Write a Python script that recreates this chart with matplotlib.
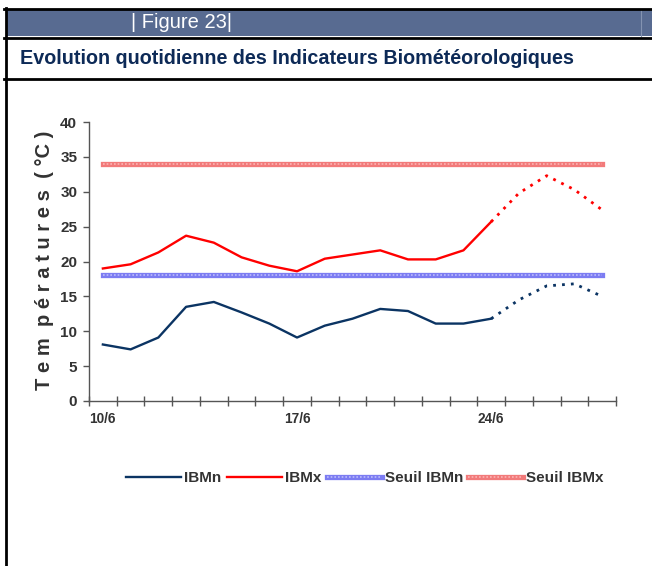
import numpy as np
import matplotlib
matplotlib.use("Agg")
import matplotlib.pyplot as plt
from matplotlib.lines import Line2D
from matplotlib.patches import Rectangle
from matplotlib.legend_handler import HandlerTuple

# Data (daily values, 10/6 -> 28/6)
days = ["10/6", "11/6", "12/6", "13/6", "14/6", "15/6", "16/6", "17/6", "18/6", "19/6",
        "20/6", "21/6", "22/6", "23/6", "24/6", "25/6", "26/6", "27/6", "28/6"]
ibmn = [8.1, 7.4, 9.1, 13.5, 14.2, 12.7, 11.1, 9.1, 10.8, 11.8,
        13.2, 12.9, 11.1, 11.1, 11.8, 14.5, 16.5, 16.8, 15.0]
ibmx = [19.0, 19.6, 21.3, 23.7, 22.7, 20.6, 19.4, 18.6, 20.4, 21.0,
        21.6, 20.3, 20.3, 21.6, 25.7, 29.8, 32.3, 30.3, 27.4]
seuil_ibmn = 18
seuil_ibmx = 34
last_obs = 14          # forecast (dotted) after 24/6
label_days = ["10/6", "17/6", "24/6"]

FONT = ["Liberation Sans", "DejaVu Sans"]
TXT = "#333333"
NAVY = "#0b3463"
RED = "#ff0000"

fig = plt.figure(figsize=(6.52, 5.66), dpi=100)
W, H = 652, 566


def fx(px):
    return px / W


def fy(py):
    return 1 - py / H


# page frame: header band, title row, borders
fig.add_artist(Rectangle((fx(6), fy(36)), 1, fy(10) - fy(36), transform=fig.transFigure,
                         facecolor="#586b91", edgecolor="none"))
fig.add_artist(Line2D([fx(641), fx(641)], [fy(36), fy(10)], transform=fig.transFigure,
                      color="#8493b1", lw=0.8))
for py in (8.5, 37.5, 78.5):
    fig.add_artist(Line2D([fx(4), 1], [fy(py), fy(py)], transform=fig.transFigure,
                          color="black", lw=2))
fig.add_artist(Line2D([fx(5.5), fx(5.5)], [fy(8), 0], transform=fig.transFigure,
                      color="black", lw=2))
fig.text(fx(131), fy(23), "| Figure 23|", color="white", fontsize=14.5,
         family=FONT, va="center", ha="left")
fig.text(fx(20), fy(58), "Evolution quotidienne des Indicateurs Biométéorologiques",
         color="#0d2a57", fontsize=14.2, fontweight="bold", family=FONT,
         va="center", ha="left")

ax = fig.add_axes([fx(89), fy(401), fx(616) - fx(89), fy(122) - fy(401)])
x = np.arange(len(days))

# thresholds: thick patterned bands
sn = np.full(len(days), seuil_ibmn)
sm = np.full(len(days), seuil_ibmx)
ax.plot(x, sm, color="#f27a7a", lw=3.8, solid_capstyle="projecting", zorder=2)
ax.plot(x, sm, color="#fbb4b4", lw=1.2, ls=(0, (1, 1.2)), zorder=2)
ax.plot(x, sn, color="#7c7cf2", lw=3.8, solid_capstyle="projecting", zorder=2)
ax.plot(x, sn, color="#bcbcfb", lw=1.2, ls=(0, (1, 1.2)), zorder=2)

# observed (solid) then forecast (dotted)
ax.plot(x[:last_obs + 1], ibmn[:last_obs + 1], color=NAVY, lw=1.7, zorder=3)
ax.plot(x[last_obs:], ibmn[last_obs:], color=NAVY, lw=2, ls=(0, (1, 2.2)), zorder=3)
ax.plot(x[:last_obs + 1], ibmx[:last_obs + 1], color=RED, lw=1.7, zorder=3)
ax.plot(x[last_obs:], ibmx[last_obs:], color=RED, lw=2, ls=(0, (1, 2.2)), zorder=3)

ax.set_xlim(-0.5, len(days) - 0.5)
ax.set_ylim(0, 40)
ax.set_yticks(range(0, 41, 5))
ax.set_yticklabels([str(v) for v in range(0, 41, 5)], family=FONT,
                   fontweight="bold", fontsize=11, color=TXT)
ax.tick_params(axis="y", direction="out", length=4.5, width=1, color="#555555", pad=4)

ax.set_xticks(np.arange(len(days) + 1) - 0.5)
ax.set_xticklabels([])
ax.tick_params(axis="x", which="major", direction="inout", length=6.5, width=1,
               color="#555555")
ax.set_xticks([days.index(d) for d in label_days], minor=True)
ax.set_xticklabels(label_days, minor=True, family=FONT, fontweight="bold",
                   fontsize=9.8, color=TXT)
ax.tick_params(axis="x", which="minor", length=0, pad=8)

for s in ("top", "right"):
    ax.spines[s].set_visible(False)
for s in ("left", "bottom"):
    ax.spines[s].set_color("#555555")
    ax.spines[s].set_linewidth(1)

fig.text(fx(45), fy(260), "T e m  p é r a t u r e s  ( °C )", rotation=90,
         family=FONT, fontweight="bold", fontsize=14.5, color=TXT,
         va="center", ha="center")

# legend
h_n = Line2D([], [], color=NAVY, lw=1.7)
h_x = Line2D([], [], color=RED, lw=1.7)
h_sn = (Line2D([], [], color="#7c7cf2", lw=3.8),
        Line2D([], [], color="#bcbcfb", lw=1.2, ls=(0, (1, 1.2))))
h_sx = (Line2D([], [], color="#f27a7a", lw=3.8),
        Line2D([], [], color="#fbb4b4", lw=1.2, ls=(0, (1, 1.2))))
leg = fig.legend([h_n, h_x, h_sn, h_sx], ["IBMn", "IBMx", "Seuil IBMn", "Seuil IBMx"],
                 ncol=4, loc="center", bbox_to_anchor=(fx(365), fy(478)),
                 frameon=False, handlelength=3.6, handletextpad=0.2,
                 columnspacing=0.35, handler_map={tuple: HandlerTuple(ndivide=1)},
                 prop={"family": FONT, "weight": "bold", "size": 11})
for t in leg.get_texts():
    t.set_color(TXT)

fig.savefig("out.png", dpi=100, facecolor="white")
